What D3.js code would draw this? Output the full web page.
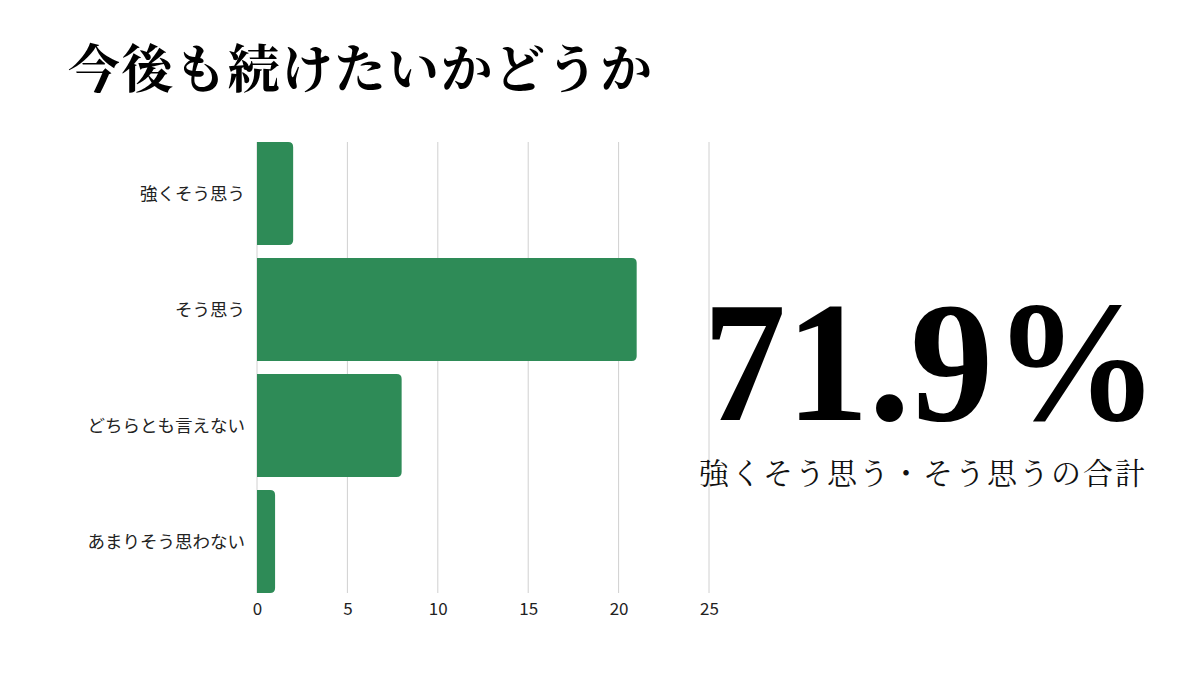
<!DOCTYPE html>
<meta charset="utf-8">
<script src="https://d3js.org/d3.v7.min.js"></script>
<style>
  body { margin: 0; background: #fff; }
</style>
<div id="chart"></div>
<script>
  // answers to "今後も続けたいかどうか"
  const categories = ["強くそう思う", "そう思う", "どちらとも言えない", "あまりそう思わない"];
  const counts = [2, 21, 8, 1];
  const xTicks = [0, 5, 10, 15, 20, 25];

  const W = 1200, H = 675;
  const sans = "'Noto Sans CJK JP', 'Noto Sans', sans-serif";
  const serifJP = "'Noto Serif CJK JP', 'Liberation Serif', 'Noto Sans CJK JP', serif";

  const svg = d3.select("#chart").append("svg")
    .attr("width", W).attr("height", H);

  // title
  svg.append("text")
    .attr("x", 68).attr("y", 88)
    .style("font-family", serifJP)
    .style("font-weight", 700)
    .style("font-size", "52px")
    .attr("textLength", 584)
    .text("今後も続けたいかどうか");

  const x = d3.scaleLinear().domain([0, 25]).range([257, 709]);
  const y = d3.scaleBand().domain(categories).range([142, 593]).paddingInner(0.112).paddingOuter(0);

  // grid lines
  svg.append("g").selectAll("line")
    .data(xTicks)
    .join("line")
    .attr("x1", d => x(d)).attr("x2", d => x(d))
    .attr("y1", 142).attr("y2", 593)
    .attr("stroke", "#d0d0d0").attr("stroke-width", 1);

  // x axis labels
  svg.append("g")
    .attr("transform", `translate(0, 593)`)
    .call(d3.axisBottom(x).tickValues(xTicks).tickSize(0).tickPadding(10))
    .call(g => g.select(".domain").remove())
    .selectAll("text")
    .style("font-family", sans)
    .style("font-size", "17px")
    .attr("fill", "#222");

  // category labels
  svg.append("g").selectAll("text")
    .data(categories)
    .join("text")
    .attr("x", 245)
    .attr("y", d => y(d) + y.bandwidth() / 2)
    .attr("dy", "0.35em")
    .attr("text-anchor", "end")
    .style("font-family", sans)
    .style("font-size", "17.5px")
    .attr("fill", "#222")
    .text(d => d);

  // bars: square at the axis, rounded on the right
  const r = 5;
  svg.append("g").selectAll("path")
    .data(categories)
    .join("path")
    .attr("fill", "#2e8b57")
    .attr("d", (d, i) => {
      const x0 = x(0), x1 = x(counts[i]), y0 = y(d), h = y.bandwidth();
      const rr = Math.min(r, (x1 - x0) / 2);
      return `M${x0},${y0} H${x1 - rr} Q${x1},${y0} ${x1},${y0 + rr} V${y0 + h - rr} Q${x1},${y0 + h} ${x1 - rr},${y0 + h} H${x0} Z`;
    });

  // share of positive answers
  const total = d3.sum(counts);
  const share = (counts[0] + counts[1]) / total * 100;

  svg.append("text")
    .attr("x", 703).attr("y", 420)
    .style("font-family", "'Liberation Serif', serif")
    .style("font-weight", 700)
    .style("font-size", "172px")
    .attr("textLength", 456)
    .attr("lengthAdjust", "spacingAndGlyphs")
    .text(share.toFixed(1) + "%");

  svg.append("text")
    .attr("x", 699).attr("y", 484)
    .style("font-family", serifJP)
    .style("font-size", "30px")
    .attr("textLength", 446)
    .attr("fill", "#111")
    .text("強くそう思う・そう思うの合計");
</script>
